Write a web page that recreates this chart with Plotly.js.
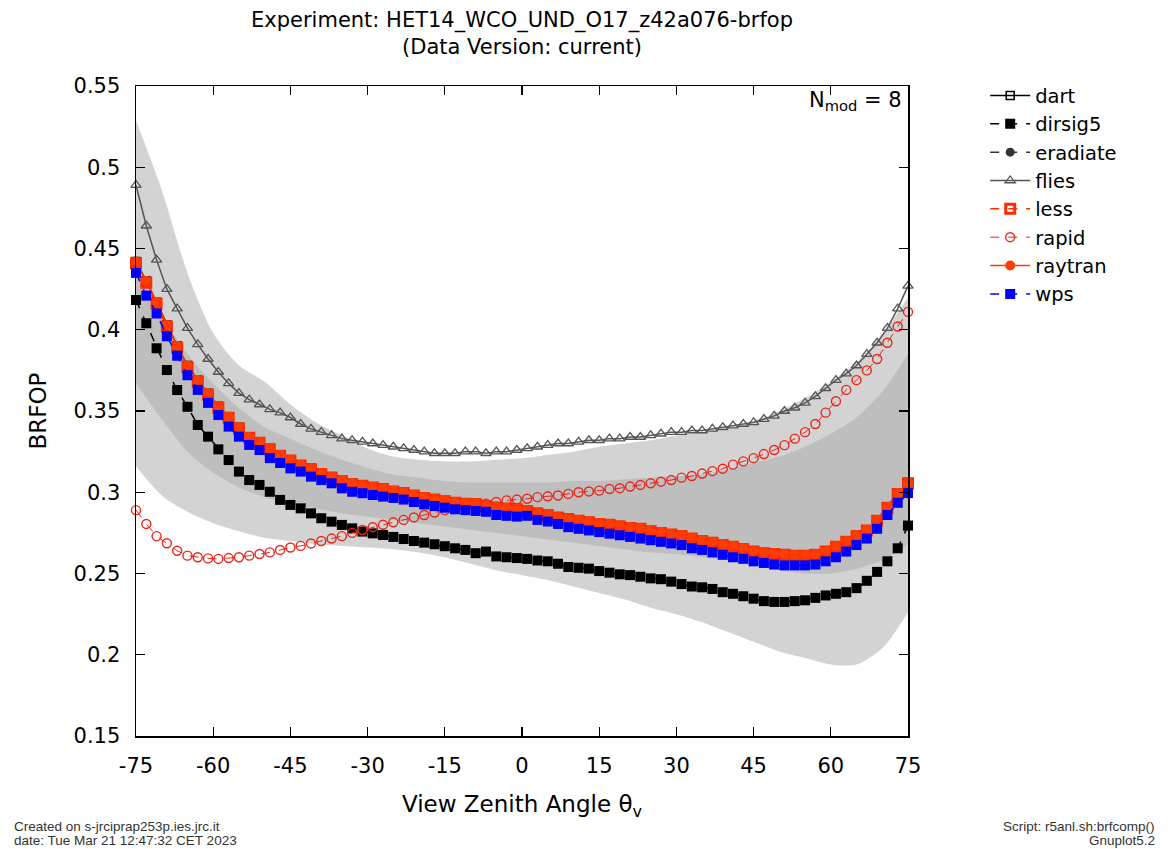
<!DOCTYPE html>
<html>
<head>
<meta charset="utf-8">
<script src="https://cdn.plot.ly/plotly-3.0.1.min.js"></script>
<style>html,body{margin:0;padding:0;background:#fff;}#chart{width:1176px;height:849px;}</style>
</head>
<body>
<div id="chart"></div>
<script>
// View zenith angles (degrees), step 2
const angles = [-75,-73,-71,-69,-67,-65,-63,-61,-59,-57,-55,-53,-51,-49,-47,-45,-43,-41,-39,-37,-35,-33,-31,-29,-27,-25,-23,-21,-19,-17,-15,-13,-11,-9,-7,-5,-3,-1,1,3,5,7,9,11,13,15,17,19,21,23,25,27,29,31,33,35,37,39,41,43,45,47,49,51,53,55,57,59,61,63,65,67,69,71,73,75];

const flies = [0.489,0.464,0.443,0.425,0.413,0.401,0.391,0.382,0.374,0.367,0.361,0.357,0.354,0.351,0.349,0.346,0.342,0.339,0.337,0.335,0.333,0.332,0.331,0.330,0.329,0.328,0.327,0.326,0.325,0.324,0.324,0.324,0.325,0.325,0.324,0.325,0.325,0.326,0.327,0.328,0.329,0.330,0.330,0.331,0.332,0.332,0.333,0.333,0.334,0.334,0.335,0.336,0.337,0.337,0.338,0.338,0.339,0.340,0.341,0.342,0.343,0.345,0.347,0.350,0.352,0.355,0.359,0.364,0.369,0.373,0.378,0.385,0.392,0.401,0.413,0.427];

const rapid = [0.289,0.2805,0.273,0.2686,0.264,0.261,0.260,0.2593,0.259,0.2595,0.260,0.261,0.262,0.263,0.2645,0.266,0.267,0.2685,0.270,0.2715,0.273,0.275,0.2768,0.2785,0.280,0.2815,0.283,0.2845,0.286,0.2875,0.289,0.2905,0.291,0.292,0.293,0.294,0.295,0.2955,0.296,0.297,0.2975,0.298,0.299,0.300,0.3005,0.301,0.302,0.3025,0.3035,0.3045,0.3055,0.3065,0.3075,0.309,0.310,0.3115,0.313,0.3145,0.317,0.319,0.321,0.3235,0.326,0.329,0.333,0.337,0.342,0.349,0.356,0.363,0.369,0.375,0.382,0.392,0.402,0.411];

const raytran = [0.442,0.430,0.417,0.403,0.390,0.378,0.369,0.361,0.353,0.3465,0.340,0.334,0.331,0.327,0.323,0.320,0.317,0.3147,0.3117,0.3096,0.3075,0.3055,0.3045,0.3034,0.3024,0.301,0.300,0.2985,0.297,0.296,0.295,0.294,0.2935,0.2932,0.292,0.291,0.2905,0.290,0.289,0.2875,0.2865,0.285,0.284,0.283,0.282,0.281,0.2805,0.2795,0.2785,0.278,0.2765,0.2755,0.2745,0.2735,0.272,0.2705,0.2695,0.268,0.267,0.2655,0.264,0.263,0.2625,0.262,0.2615,0.2615,0.262,0.264,0.267,0.270,0.2735,0.277,0.283,0.291,0.2995,0.306];

const less = [0.441,0.429,0.416,0.402,0.389,0.377,0.368,0.360,0.352,0.3458,0.3393,0.3335,0.3305,0.3265,0.3225,0.3195,0.3165,0.3142,0.3112,0.3091,0.3070,0.3050,0.3040,0.3029,0.3019,0.3005,0.2995,0.2980,0.2965,0.2955,0.2945,0.2935,0.2930,0.2927,0.2915,0.2905,0.2900,0.2895,0.2885,0.2870,0.2860,0.2845,0.2835,0.2825,0.2815,0.2805,0.2800,0.2790,0.2780,0.2775,0.2760,0.2750,0.2740,0.2730,0.2715,0.2700,0.2690,0.2675,0.2665,0.2650,0.2635,0.2625,0.2620,0.2615,0.2610,0.2610,0.2615,0.2635,0.2665,0.2695,0.2730,0.2765,0.2825,0.2905,0.2990,0.3055];

const dart = [0.442,0.430,0.417,0.403,0.390,0.378,0.369,0.361,0.353,0.3465,0.340,0.334,0.331,0.327,0.323,0.320,0.317,0.3147,0.3117,0.3096,0.3075,0.3055,0.3045,0.3034,0.3024,0.301,0.300,0.2985,0.297,0.296,0.295,0.294,0.2935,0.2932,0.292,0.291,0.2905,0.290,0.289,0.2875,0.2865,0.285,0.284,0.283,0.282,0.281,0.2805,0.2795,0.2785,0.278,0.2765,0.2755,0.2745,0.2735,0.272,0.2705,0.2695,0.268,0.267,0.2655,0.264,0.263,0.2625,0.262,0.2615,0.2615,0.262,0.264,0.267,0.270,0.2735,0.277,0.283,0.291,0.2995,0.306];

const eradiate = [0.441,0.429,0.416,0.402,0.389,0.377,0.368,0.360,0.352,0.3458,0.3393,0.3335,0.3305,0.3265,0.3225,0.3195,0.3165,0.3142,0.3112,0.3091,0.3070,0.3050,0.3040,0.3029,0.3019,0.3005,0.2995,0.2980,0.2965,0.2955,0.2945,0.2935,0.2930,0.2927,0.2915,0.2905,0.2900,0.2895,0.2885,0.2870,0.2860,0.2845,0.2835,0.2825,0.2815,0.2805,0.2800,0.2790,0.2780,0.2775,0.2760,0.2750,0.2740,0.2730,0.2715,0.2700,0.2690,0.2675,0.2665,0.2650,0.2635,0.2625,0.2620,0.2615,0.2610,0.2610,0.2615,0.2635,0.2665,0.2695,0.2730,0.2765,0.2825,0.2905,0.2990,0.3055];

const wps = [0.435,0.421,0.410,0.396,0.384,0.372,0.363,0.355,0.3475,0.3404,0.3342,0.3291,0.326,0.321,0.318,0.3147,0.3127,0.3096,0.3075,0.3055,0.3024,0.3003,0.2994,0.2983,0.2973,0.2965,0.2955,0.294,0.2925,0.2915,0.2905,0.2895,0.289,0.2885,0.288,0.286,0.2855,0.285,0.2855,0.283,0.282,0.2805,0.2785,0.2775,0.2765,0.2755,0.2745,0.2735,0.2725,0.2715,0.2705,0.2695,0.2685,0.2675,0.2655,0.2645,0.263,0.2615,0.260,0.259,0.2575,0.2565,0.2555,0.255,0.255,0.255,0.2555,0.2575,0.260,0.2635,0.2675,0.2715,0.2775,0.286,0.2935,0.2995];

const dirsig5 = [0.4183,0.404,0.3886,0.3752,0.3629,0.3526,0.3414,0.3342,0.3264,0.3198,0.3127,0.3075,0.3045,0.3003,0.2953,0.2922,0.2901,0.287,0.284,0.2819,0.2799,0.2778,0.2758,0.2747,0.2737,0.2725,0.2712,0.270,0.269,0.268,0.2668,0.2655,0.2645,0.2625,0.2635,0.2605,0.260,0.2595,0.259,0.258,0.2575,0.256,0.254,0.2535,0.253,0.2515,0.2505,0.2495,0.249,0.248,0.247,0.2465,0.245,0.2435,0.242,0.2415,0.2405,0.2385,0.2375,0.236,0.2345,0.233,0.2325,0.2325,0.233,0.2335,0.235,0.2365,0.2375,0.2385,0.241,0.2455,0.251,0.2575,0.2655,0.2795];

// Spread bands (every 5 degrees)
const bandAngles = [-75,-70,-65,-60,-55,-50,-45,-40,-35,-30,-25,-20,-15,-10,-5,0,5,10,15,20,25,30,35,40,45,50,55,60,65,70,75];
const outerTop = [0.529,0.486,0.435,0.398,0.378,0.368,0.354,0.343,0.335,0.327,0.322,0.320,0.319,0.319,0.320,0.321,0.323,0.325,0.328,0.330,0.332,0.335,0.337,0.340,0.344,0.350,0.358,0.368,0.380,0.397,0.420];
const outerBot = [0.316,0.298,0.288,0.281,0.276,0.272,0.270,0.268,0.267,0.266,0.265,0.263,0.260,0.256,0.252,0.249,0.246,0.242,0.238,0.234,0.229,0.225,0.220,0.214,0.208,0.202,0.198,0.194,0.194,0.204,0.226];
const innerTop = [0.445,0.410,0.385,0.367,0.352,0.340,0.333,0.326,0.320,0.315,0.311,0.309,0.307,0.306,0.306,0.306,0.306,0.307,0.307,0.308,0.309,0.310,0.311,0.314,0.318,0.322,0.328,0.336,0.346,0.362,0.385];
const innerBot = [0.367,0.345,0.325,0.312,0.303,0.297,0.293,0.290,0.287,0.285,0.283,0.281,0.279,0.277,0.275,0.273,0.271,0.269,0.267,0.265,0.263,0.262,0.260,0.258,0.255,0.252,0.250,0.250,0.253,0.258,0.268];

const xTicks = [-75,-60,-45,-30,-15,0,15,30,45,60,75];

const FONT = 'DejaVu Sans, sans-serif';
const FOOT = 'Liberation Sans, Arial, sans-serif';

function band(y, fillColor, fill) {
  return {x: bandAngles, y: y, mode: 'lines', line: {width: 0, shape: 'spline', smoothing: 0.8, color: fillColor},
          fill: fill, fillcolor: fillColor, showlegend: false, hoverinfo: 'skip'};
}

function series(name, y, color, symbol, dash, size, lw, mlw) {
  return {x: angles, y: y, name: name, mode: 'lines+markers', cliponaxis: false,
          line: {color: color, width: lw, dash: dash},
          marker: {symbol: symbol, size: size, color: color, line: {color: color, width: mlw}}};
}

const traces = [
  band(outerBot, 'rgba(0,0,0,0)', 'none'),
  band(outerTop, '#d3d3d3', 'tonexty'),
  band(innerBot, 'rgba(0,0,0,0)', 'none'),
  band(innerTop, '#bebebe', 'tonexty'),
  series('dart', dart, '#000000', 'square-open', 'solid', 8, 1.5, 1.5),
  series('dirsig5', dirsig5, '#000000', 'square', 'dash', 10, 1.5, 0),
  series('eradiate', eradiate, '#333333', 'circle', 'dash', 9, 1.5, 0),
  series('flies', flies, '#555555', 'triangle-up-open', 'solid', 9, 1.5, 1.3),
  series('less', less, '#ff2a00', 'square-open', 'dash', 9, 1.5, 3),
  series('rapid', rapid, '#e8261c', 'circle-open', 'dash', 9, 1, 1.4),
  series('raytran', raytran, '#ff3c00', 'circle', 'solid', 10, 1.5, 0),
  series('wps', wps, '#0000ff', 'square', 'dash', 10, 1.5, 0)
];

const layout = {
  width: 1176, height: 849,
  paper_bgcolor: '#ffffff', plot_bgcolor: '#ffffff',
  margin: {l: 136, r: 268, t: 86, b: 113},
  font: {family: FONT, size: 21, color: '#000'},
  title: {text: 'Experiment: HET14_WCO_UND_O17_z42a076-brfop<br>(Data Version: current)',
          font: {family: FONT, size: 21, color: '#000'},
          xref: 'paper', x: 0.5, xanchor: 'center', yref: 'container', y: 0.968, yanchor: 'top'},
  xaxis: {range: [-75, 75], tickvals: xTicks, ticktext: xTicks.map(String),
          ticks: 'inside', ticklen: 9, tickwidth: 1.2, tickcolor: '#000', ticklabelstandoff: 10,
          showline: true, linecolor: '#000', linewidth: 1.5, mirror: 'ticks',
          showgrid: false, zeroline: false, tickfont: {family: FONT, size: 21},
          title: {text: 'View Zenith Angle θ<sub>v</sub>', font: {family: FONT, size: 23}, standoff: 19}},
  yaxis: {range: [0.15, 0.55], dtick: 0.05, tick0: 0.15,
          ticks: 'inside', ticklen: 9, tickwidth: 1.2, tickcolor: '#000', ticklabelstandoff: 10,
          showline: true, linecolor: '#000', linewidth: 1.5, mirror: 'ticks',
          showgrid: false, zeroline: false, tickfont: {family: FONT, size: 21},
          title: {text: 'BRFOP', font: {family: FONT, size: 23}, standoff: 20}},
  legend: {x: 1.1, xanchor: 'left', y: 1.015, yanchor: 'top', bgcolor: 'rgba(0,0,0,0)', traceorder: 'normal',
           font: {family: FONT, size: 19.5}, tracegroupgap: 0, itemwidth: 40},
  annotations: [
    {text: 'N<sub>mod</sub> = 8', xref: 'paper', yref: 'paper', x: 0.995, y: 1.0,
     xanchor: 'right', yanchor: 'top', showarrow: false, font: {family: FONT, size: 21}},
    {text: 'Created on s-jrciprap253p.ies.jrc.it',
     xref: 'paper', yref: 'paper', x: -0.1606, y: (736 - 826) / 650, xanchor: 'left', yanchor: 'middle',
     showarrow: false, font: {family: FOOT, size: 13.5, color: '#333'}},
    {text: 'date: Tue Mar 21 12:47:32 CET 2023',
     xref: 'paper', yref: 'paper', x: -0.1606, y: (736 - 840) / 650, xanchor: 'left', yanchor: 'middle',
     showarrow: false, font: {family: FOOT, size: 13.5, color: '#333'}},
    {text: 'Script: r5anl.sh:brfcomp()',
     xref: 'paper', yref: 'paper', x: 1.3225, y: (736 - 826) / 650, xanchor: 'right', yanchor: 'middle',
     showarrow: false, font: {family: FOOT, size: 13.5, color: '#333'}},
    {text: 'Gnuplot5.2',
     xref: 'paper', yref: 'paper', x: 1.3225, y: (736 - 840) / 650, xanchor: 'right', yanchor: 'middle',
     showarrow: false, font: {family: FOOT, size: 13.5, color: '#333'}}
  ]
};

Plotly.newPlot('chart', traces, layout, {displayModeBar: false, staticPlot: true});
</script>
</body>
</html>
